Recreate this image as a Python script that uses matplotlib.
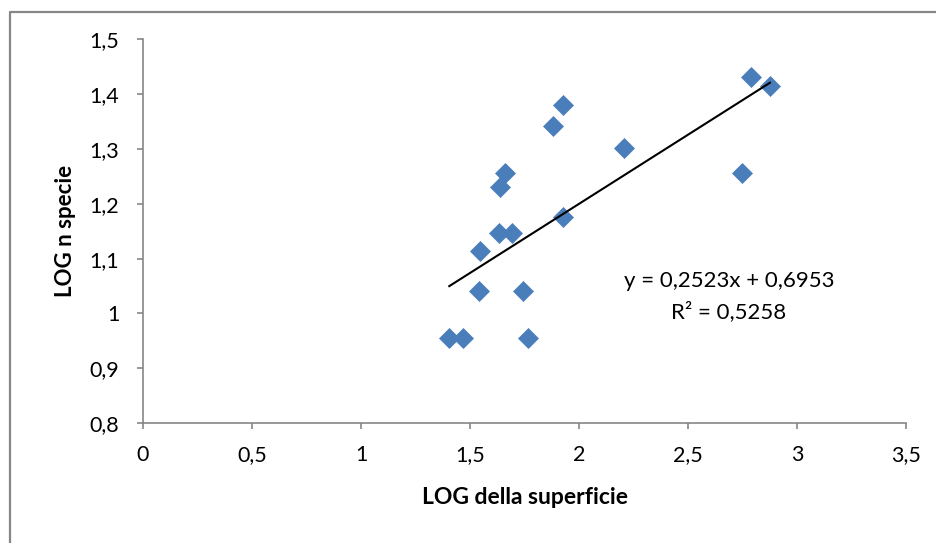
import matplotlib
matplotlib.use("Agg")
import matplotlib.pyplot as plt
from matplotlib.lines import Line2D
from matplotlib.ticker import FuncFormatter, MultipleLocator

plt.rcParams['font.family'] = ['Lato', 'DejaVu Sans']

# log10 of surface area and of species count for each site
log_superficie = [1.405, 1.469, 1.543, 1.546, 1.633, 1.691, 1.638, 1.662,
                  1.744, 1.767, 1.925, 1.879, 1.928, 2.206, 2.788, 2.876, 2.748]
log_specie = [0.9542, 0.9542, 1.0414, 1.1139, 1.1461, 1.1461, 1.2304, 1.2553,
              1.0414, 0.9542, 1.1761, 1.3424, 1.3802, 1.3010, 1.4314, 1.4150, 1.2553]

# linear trend fitted to the points
slope = 0.2523
intercept = 0.6953
r_squared = 0.5258

x_label = "LOG della superficie"
y_label = "LOG n specie"

W, H = 936, 543
fig = plt.figure(figsize=(W / 100, H / 100), dpi=100)
ax = fig.add_axes([143 / W, (H - 423) / H, 763 / W, 383.6 / H])

grey = "#868686"
blue = "#4A7EBB"

ax.plot(log_superficie, log_specie, linestyle="none", marker="D",
        markersize=10, markerfacecolor=blue, markeredgecolor=blue,
        markeredgewidth=0.5, zorder=3)

x0, x1 = min(log_superficie), max(log_superficie)
ax.plot([x0, x1], [slope * x0 + intercept, slope * x1 + intercept],
        color="black", linewidth=1.5, zorder=4)


def fmt_it(v):
    s = f"{v:.2f}".rstrip("0").rstrip(".")
    return s.replace(".", ",")


ax.text(2.688, 1.059, f"y = {slope:.4f}x + {intercept:.4f}".replace(".", ","),
        ha="center", va="center", fontsize=16, color="black")
ax.text(2.688, 1.004, f"R² = {r_squared:.4f}".replace(".", ","),
        ha="center", va="center", fontsize=16, color="black")

ax.set_xlim(0, 3.5)
ax.set_ylim(0.8, 1.5)
ax.xaxis.set_major_locator(MultipleLocator(0.5))
ax.yaxis.set_major_locator(MultipleLocator(0.1))
ax.xaxis.set_major_formatter(FuncFormatter(lambda v, p: fmt_it(v)))
ax.yaxis.set_major_formatter(FuncFormatter(lambda v, p: fmt_it(v)))

for side in ("top", "right"):
    ax.spines[side].set_visible(False)
for side in ("left", "bottom"):
    ax.spines[side].set_color(grey)
    ax.spines[side].set_linewidth(1.2)

ax.tick_params(axis="both", direction="out", length=4, width=1.2,
               color=grey, labelsize=15.5, labelcolor="black")
ax.tick_params(axis="x", pad=12)
ax.tick_params(axis="y", pad=13)

ax.set_xlabel(x_label, fontsize=16.5, fontweight="bold", labelpad=16)
ax.set_ylabel(y_label, fontsize=16, fontweight="bold", labelpad=10)

# chart frame
fig.add_artist(Line2D([9.5 / W, 9.5 / W, 1.0], [0.0, 1 - 11.5 / H, 1 - 11.5 / H],
                      transform=fig.transFigure, color=grey, linewidth=1.6))

fig.savefig("out.png", dpi=100)
